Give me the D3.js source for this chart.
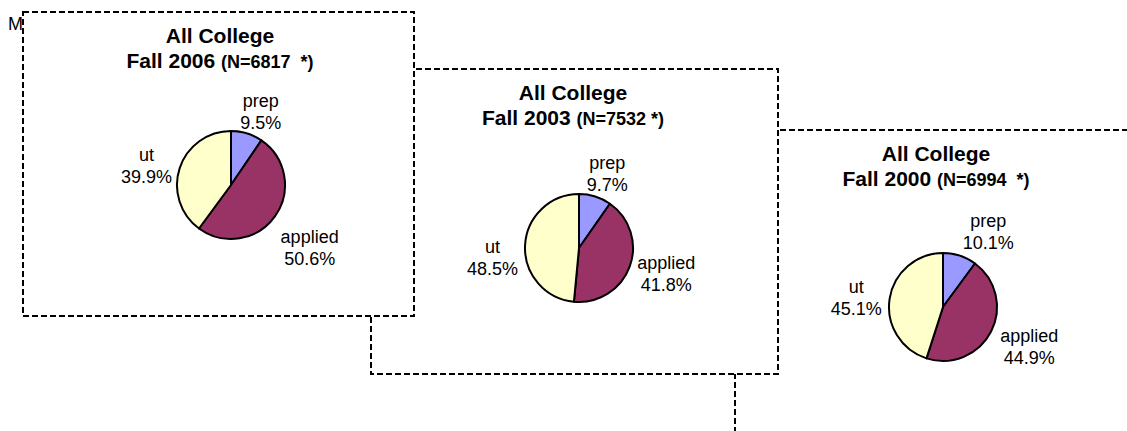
<!DOCTYPE html>
<html>
<head>
<meta charset="utf-8">
<script src="https://cdn.jsdelivr.net/npm/d3@7"></script>
<style>
  body { margin: 0; background: #fff; }
  svg { display: block; font-family: "Liberation Sans", Arial, sans-serif; }
</style>
</head>
<body>
<div id="wrapper"></div>
<script>
// data
const titles = ["All College", "All College", "All College"];
const terms = ["Fall 2006", "Fall 2003", "Fall 2000"];
const counts = ["(N=6817  *)", "(N=7532 *)", "(N=6994  *)"];
const categories = ["prep", "applied", "ut"];
const prepShare = [9.5, 9.7, 10.1];
const appliedShare = [50.6, 41.8, 44.9];
const utShare = [39.9, 48.5, 45.1];

function drawPies() {
  const dimensions = { width: 1127, height: 431 };

  // one frame per term, later ones sit behind the earlier ones
  // nudge = small hand adjustments of the labels, as in the original sheet
  const frames = [
    { x: 23, y: 12, w: 391, h: 304, titleX: 197, pieX: 208, pieY: 173,
      nudge: { prep: [5, 1], applied: [-1, 1], ut: [0, 3] } },
    { x: 371, y: 69, w: 407, h: 305, titleX: 202, pieX: 208, pieY: 179,
      nudge: { prep: [3, 0], applied: [0, -12], ut: [1, 8] } },
    { x: 735, y: 130, w: 420, h: 330, titleX: 201, pieX: 208, pieY: 177,
      nudge: { prep: [19, -1], applied: [2, -9], ut: [0, -1] } },
  ];
  const radius = 54;

  const colorScale = d3.scaleOrdinal()
    .domain(categories)
    .range(["#9999FF", "#993366", "#FFFFCC"]);

  const pieGenerator = d3.pie()
    .sort(null)
    .value(d => d.value);

  const arcGenerator = d3.arc()
    .innerRadius(0)
    .outerRadius(radius);

  const wrapper = d3.select("#wrapper")
    .append("svg")
    .attr("width", dimensions.width)
    .attr("height", dimensions.height);

  // partly hidden page heading
  wrapper.append("text")
    .attr("x", 8)
    .attr("y", 30)
    .attr("font-size", 18)
    .attr("fill", "#000")
    .text("M");

  const panels = terms.map((term, i) => ({
    title: titles[i],
    term,
    count: counts[i],
    frame: frames[i],
    slices: [
      { key: "prep", value: prepShare[i] },
      { key: "applied", value: appliedShare[i] },
      { key: "ut", value: utShare[i] },
    ],
  }));

  // draw back to front
  panels.slice().reverse().forEach(panel => {
    const f = panel.frame;
    const g = wrapper.append("g")
      .attr("transform", `translate(${f.x}, ${f.y})`);

    g.append("rect")
      .attr("width", f.w)
      .attr("height", f.h)
      .attr("fill", "#fff")
      .attr("stroke", "#000")
      .attr("stroke-width", 2)
      .attr("stroke-dasharray", "6,3");

    const title = g.append("text")
      .attr("text-anchor", "middle")
      .attr("font-weight", "bold")
      .attr("font-size", 21)
      .attr("fill", "#000");
    title.append("tspan")
      .attr("x", f.titleX)
      .attr("y", 31)
      .text(panel.title);
    const line2 = title.append("tspan")
      .attr("x", f.titleX)
      .attr("y", 56);
    line2.append("tspan").text(panel.term + " ");
    line2.append("tspan")
      .attr("font-size", 18)
      .style("white-space", "pre")
      .text(panel.count);

    const pieG = g.append("g")
      .attr("transform", `translate(${f.pieX}, ${f.pieY})`);

    const arcs = pieGenerator(panel.slices);

    pieG.selectAll("path")
      .data(arcs)
      .join("path")
      .attr("d", arcGenerator)
      .attr("fill", d => colorScale(d.data.key))
      .attr("stroke", "#000")
      .attr("stroke-width", 2)
      .attr("stroke-linejoin", "round");

    // labels sit just outside the rim, along each slice's middle angle
    const labels = pieG.selectAll("text.label")
      .data(arcs)
      .join("text")
      .attr("class", "label")
      .attr("text-anchor", "middle")
      .attr("font-size", 18)
      .attr("fill", "#000");
    labels.append("tspan")
      .attr("x", 0)
      .attr("y", 0)
      .text(d => d.data.key);
    labels.append("tspan")
      .attr("x", 0)
      .attr("y", 22)
      .text(d => d3.format(".1f")(d.data.value) + "%");

    labels.each(function(d) {
      const box = this.getBBox();
      const mid = (d.startAngle + d.endAngle) / 2;
      const ux = Math.sin(mid);
      const uy = -Math.cos(mid);
      const reach = Math.min(
        Math.abs(ux) > 1e-6 ? box.width / 2 / Math.abs(ux) : Infinity,
        Math.abs(uy) > 1e-6 ? box.height / 2 / Math.abs(uy) : Infinity
      );
      const dist = radius + 8 + reach;
      const nudge = f.nudge[d.data.key];
      const cx = ux * dist - (box.x + box.width / 2) + nudge[0];
      const cy = uy * dist - (box.y + box.height / 2) + 6 + nudge[1];
      d3.select(this).attr("transform", `translate(${cx}, ${cy})`);
    });
  });
}

drawPies();
</script>
</body>
</html>
